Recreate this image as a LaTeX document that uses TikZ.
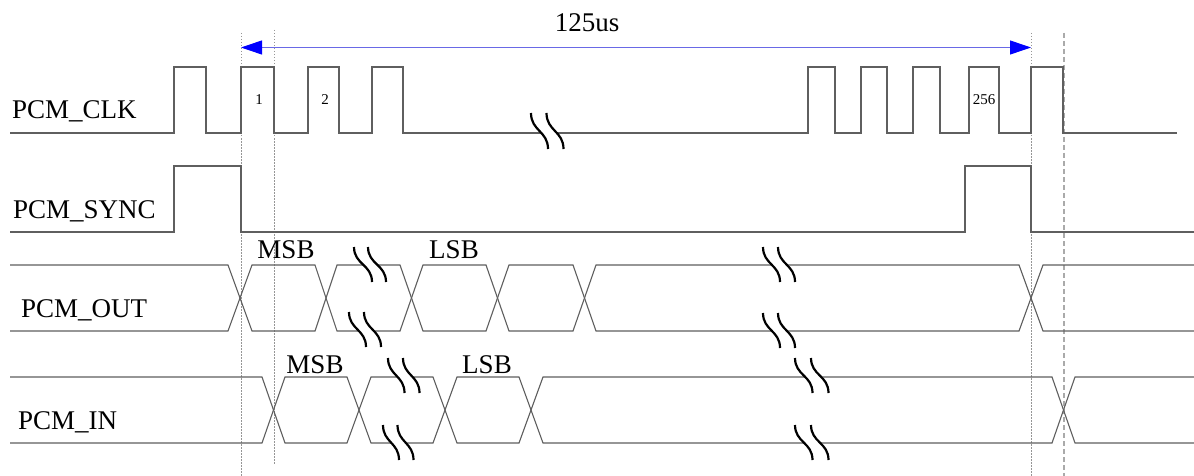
\documentclass[tikz,border=0pt]{standalone}
\usepackage{fontspec}
\setmainfont{Liberation Serif}
\usetikzlibrary{arrows.meta}
\definecolor{sigc}{RGB}{95,95,95}
\definecolor{guidec}{RGB}{150,150,150}
\definecolor{guidedc}{RGB}{170,170,170}
\definecolor{arrlc}{RGB}{105,105,230}
\newcommand\brkmark[5]{% x y w h dx
  \fill[white] ({#1},{#2}) .. controls ({#1},{#2+0.5*#4}) and ({#1+#3},{#2+0.5*#4}) .. ({#1+#3},{#2+#4})
     -- ({#1+#5+#3},{#2+#4}) .. controls ({#1+#5+#3},{#2+0.5*#4}) and ({#1+#5},{#2+0.5*#4}) .. ({#1+#5},{#2}) -- cycle;
  \draw[brk] ({#1},{#2}) .. controls ({#1},{#2+0.5*#4}) and ({#1+#3},{#2+0.5*#4}) .. ({#1+#3},{#2+#4});
  \draw[brk] ({#1+#5},{#2}) .. controls ({#1+#5},{#2+0.5*#4}) and ({#1+#5+#3},{#2+0.5*#4}) .. ({#1+#5+#3},{#2+#4});
}
\begin{document}
\begin{tikzpicture}[x=1pt,y=-1pt,
  sig/.style={draw=sigc,line width=1.1pt,line join=miter},
  brk/.style={draw=black,line width=2.2pt},
  guide/.style={draw=guidec,line width=0.7pt,dash pattern=on 1.5pt off 1.5pt},
  guidedash/.style={draw=guidedc,line width=1.4pt,dash pattern=on 5pt off 3pt},
  lbl/.style={font=\fontsize{27}{30}\selectfont,inner sep=0pt,text=black},
  num/.style={font=\fontsize{15}{17}\selectfont,inner sep=0pt,text=black,anchor=base}]
\useasboundingbox[fill=white] (0,0) rectangle (1194,476);

% guide lines
\draw[guide] (241,33) -- (241,476);
\draw[guide] (274,30) -- (274,465);
\draw[guide] (1031,33) -- (1031,476);
\draw[guidedash] (1064,33) -- (1064,476);

% period arrow
\coordinate (aL) at (241,47.5);
\coordinate (aR) at (1031,47.5);
\draw[draw=arrlc,line width=0.9pt,
  {Triangle[length=21pt,width=14pt,color=blue,fill=blue]}-{Triangle[length=21pt,width=14pt,color=blue,fill=blue]}] (aL) -- (aR);
\node[lbl,anchor=base] (period) at (587,32) {125us};

% PCM_CLK
\draw[sig] (10,133) -- (174,133) -- (174,67) -- (206,67) -- (206,133) -- (241,133) -- (241,67) -- (274,67) -- (274,133)
  -- (308,133) -- (308,67) -- (339,67) -- (339,133) -- (372,133) -- (372,67) -- (403,67) -- (403,133)
  -- (808,133) -- (808,67) -- (835,67) -- (835,133) -- (861,133) -- (861,67) -- (887,67) -- (887,133)
  -- (913,133) -- (913,67) -- (940,67) -- (940,133) -- (969,133) -- (969,67) -- (999,67) -- (999,133)
  -- (1031,133) -- (1031,67) -- (1063,67) -- (1063,133) -- (1177,133);
\node[num] (n1) at (259,105) {1};
\node[num] (n2) at (325,105) {2};
\node[num] (n256) at (984,105) {256};

% PCM_SYNC
\draw[sig] (10,232) -- (174,232) -- (174,166) -- (241,166) -- (241,232) -- (965,232) -- (965,166) -- (1031,166) -- (1031,232) -- (1194,232);

% PCM_OUT
\draw[sig] (10,265) -- (228,265) -- (252,331) -- (315,331) -- (337,265) -- (400,265) -- (423,331) -- (486,331) -- (509,265)
  -- (573,265) -- (596,331) -- (1019,331) -- (1043,265) -- (1194,265);
\draw[sig] (10,331) -- (228,331) -- (252,265) -- (315,265) -- (337,331) -- (400,331) -- (423,265) -- (486,265) -- (509,331)
  -- (573,331) -- (596,265) -- (1019,265) -- (1043,331) -- (1194,331);

% PCM_IN
\draw[sig] (10,377) -- (262,377) -- (285,443) -- (347,443) -- (371,377) -- (433,377) -- (457,443) -- (519,443) -- (543,377)
  -- (1052,377) -- (1075,443) -- (1194,443);
\draw[sig] (10,443) -- (262,443) -- (285,377) -- (347,377) -- (371,443) -- (433,443) -- (457,377) -- (519,377) -- (543,443)
  -- (1052,443) -- (1075,377) -- (1194,377);

% break marks
\brkmark{531}{113}{17}{36}{15.5}
\brkmark{354}{247}{18}{35}{14}
\brkmark{349}{312}{17}{35}{15}
\brkmark{763}{247}{17}{35}{15}
\brkmark{763}{313}{17}{35}{15}
\brkmark{388}{358}{16.5}{35}{15}
\brkmark{383}{425}{16}{35}{14.5}
\brkmark{795}{358}{17.5}{35}{16}
\brkmark{795}{425}{17.5}{35}{16}

% signal names
\node[lbl,anchor=base west] (clk) at (12,119) {PCM\_CLK};
\node[lbl,anchor=base west] (sync) at (13,218) {PCM\_SYNC};
\node[lbl,anchor=base west] (out) at (21,317) {PCM\_OUT};
\node[lbl,anchor=base west] (in) at (18,429) {PCM\_IN};

% bit labels
\node[lbl,anchor=base] (omsb) at (286,258) {MSB};
\node[lbl,anchor=base] (olsb) at (454,258) {LSB};
\node[lbl,anchor=base] (imsb) at (315,373) {MSB};
\node[lbl,anchor=base] (ilsb) at (487,373) {LSB};
\end{tikzpicture}
\end{document}
